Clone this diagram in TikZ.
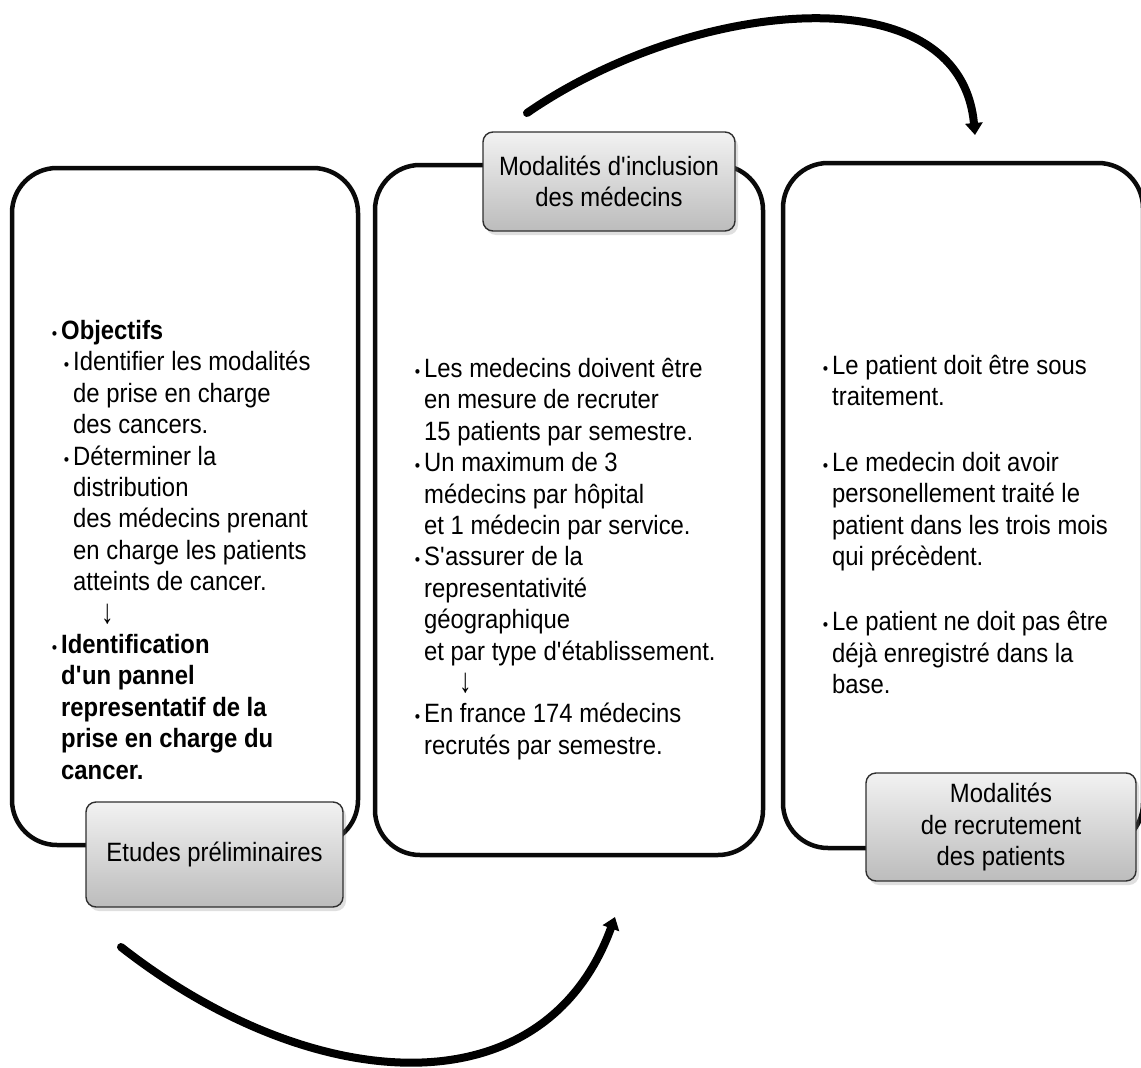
\documentclass[tikz,border=0pt]{standalone}
\usepackage{fontspec}
\setmainfont{Liberation Sans}[FakeStretch=0.9]
\usepackage{tikz}
\usetikzlibrary{arrows.meta, positioning, shadows}
\definecolor{frame}{RGB}{10, 10, 10}
\definecolor{headtop}{RGB}{242, 242, 242}
\definecolor{headbot}{RGB}{188, 188, 188}
\newcommand{\blt}{\llap{{\fontsize{17pt}{17pt}\selectfont\textbullet}\hspace{4pt}}}
\newcommand{\q}{\textquotesingle}
\newcommand{\dwn}{\raisebox{-1pt}{\scalebox{1.05}[1.3]{↓}}}
\tikzstyle{panel} = [rectangle, rounded corners=45pt, draw=frame, line width=4.5pt, fill=white, inner sep=0pt]
\tikzstyle{headbox} = [rectangle, rounded corners=10pt, draw=frame!85, line width=1.4pt, top color=headtop, bottom color=headbot, align=center, inner sep=0pt, font=\fontsize{26.5pt}{31.4pt}\selectfont, drop shadow={shadow xshift=3pt, shadow yshift=-4pt, opacity=0.25}]
\tikzstyle{bodytext} = [align=left, inner sep=0pt, anchor=north west, font=\fontsize{26.5pt}{31.4pt}\selectfont]
\tikzstyle{bigarrow} = [line width=8pt, line cap=round, -{Triangle[length=12pt, width=17pt]}]

\begin{document}
\begin{tikzpicture}[x=1pt, y=-1pt]
    \useasboundingbox (0,0) rectangle (1141,1068);

    % Panels
    \node[panel, minimum width=346pt, minimum height=677pt] (pnlA) at (185, 506.5) {};
    \node[panel, minimum width=388pt, minimum height=690pt] (pnlB) at (569, 510) {};
    \node[panel, minimum width=360pt, minimum height=685pt] (pnlC) at (963, 505.5) {};

    % Headers
    \node[headbox, minimum width=252pt, minimum height=99pt] (hdB) at (609, 181.5) {Modalités d\q inclusion\\des médecins};
    \node[headbox, minimum width=257pt, minimum height=105pt] (hdA) at (214.5, 854.5) {Etudes préliminaires};
    \node[headbox, minimum width=270pt, minimum height=108pt] (hdC) at (1001, 827) {Modalités\\de recrutement\\des patients};

    % Texts
    \node[bodytext] (txtA) at (61, 320) {%
        \blt\textbf{Objectifs}\\
        \hspace*{12pt}\blt Identifier les modalités\\
        \hspace*{12pt}de prise en charge\\
        \hspace*{12pt}des cancers.\\
        \hspace*{12pt}\blt Déterminer la\\
        \hspace*{12pt}distribution\\
        \hspace*{12pt}des médecins prenant\\
        \hspace*{12pt}en charge les patients\\
        \hspace*{12pt}atteints de cancer.\\
        \hspace*{40pt}\dwn\\
        \blt\textbf{Identification}\\
        \textbf{d\q un pannel}\\
        \textbf{representatif de la}\\
        \textbf{prise en charge du}\\
        \textbf{cancer.}};
    \node[bodytext] (txtB) at (424, 358) {%
        \blt Les medecins doivent être\\
        en mesure de recruter\\
        15 patients par semestre.\\
        \blt Un maximum de 3\\
        médecins par hôpital\\
        et 1 médecin par service.\\
        \blt S\q assurer de la\\
        representativité\\
        géographique\\
        et par type d\q établissement.\\
        \hspace*{35pt}\dwn\\
        \blt En france 174 médecins\\
        recrutés par semestre.};
    \node[bodytext] (txtC) at (832, 355) {%
        \blt Le patient doit être sous\\
        traitement.\\[34pt]
        \blt Le medecin doit avoir\\
        personellement traité le\\
        patient dans les trois mois\\
        qui précèdent.\\[34pt]
        \blt Le patient ne doit pas être\\
        déjà enregistré dans la\\
        base.};

    % Arrows
    \coordinate (topS) at (527, 113);
    \coordinate (topE) at (975, 135);
    \coordinate (botS) at (121, 947);
    \coordinate (botE) at (615, 917);
    \draw[bigarrow] (topS) .. controls (690, 0) and (960, -30) .. (topE);
    \draw[bigarrow] (botS) .. controls (310, 1095) and (543, 1114) .. (botE);
\end{tikzpicture}
\end{document}
